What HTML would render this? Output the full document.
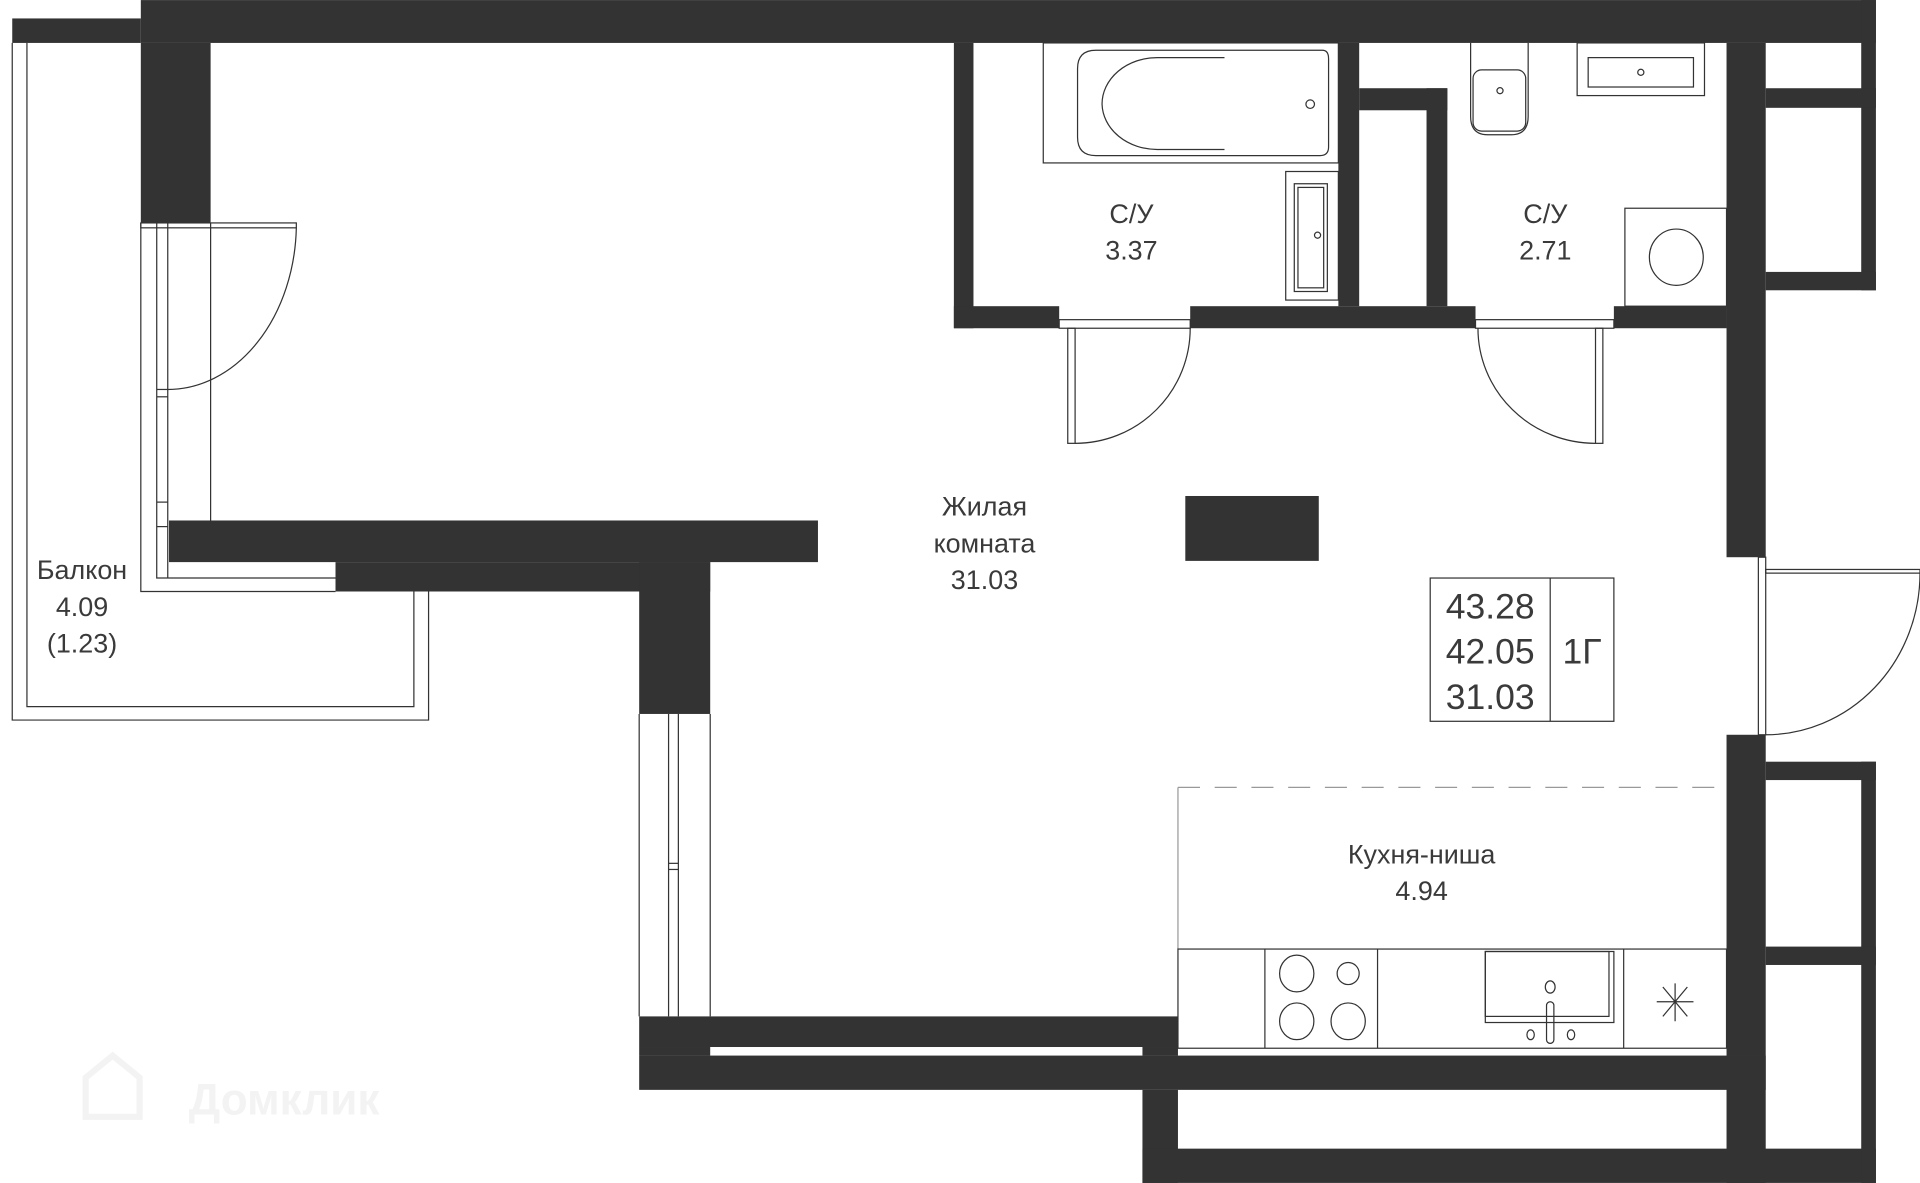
<!DOCTYPE html>
<html><head><meta charset="utf-8"><style>
html,body{margin:0;padding:0;background:#fff;width:1920px;height:1183px;overflow:hidden}
svg{display:block}
text{font-family:"Liberation Sans","DejaVu Sans",sans-serif;fill:#3a3a3a;text-anchor:middle}
</style></head><body>
<svg width="1920" height="1183" viewBox="0 0 1568 966" xmlns="http://www.w3.org/2000/svg">
<g fill="#333">
<rect x="115" y="0" width="1417" height="35"/>
<rect x="10" y="15" width="105" height="20"/>
<rect x="115" y="35" width="57" height="147"/>
<rect x="138" y="425" width="530" height="34"/>
<rect x="274" y="459" width="306" height="24"/>
<rect x="522" y="459" width="58" height="124"/>
<rect x="522" y="830" width="440" height="25"/>
<rect x="522" y="855" width="58" height="7"/>
<rect x="933" y="855" width="29" height="7"/>
<rect x="522" y="862" width="920" height="28"/>
<rect x="933" y="890" width="29" height="76"/>
<rect x="933" y="938" width="599" height="28"/>
<rect x="1410" y="862" width="32" height="104"/>
<rect x="1520" y="622" width="12" height="344"/>
<rect x="1410" y="600" width="32" height="262"/>
<rect x="1442" y="622" width="90" height="15"/>
<rect x="1442" y="773" width="90" height="15"/>
<rect x="1410" y="35" width="32" height="420"/>
<rect x="1520" y="0" width="12" height="237"/>
<rect x="1442" y="72" width="90" height="16"/>
<rect x="1442" y="222" width="90" height="15"/>
<rect x="779" y="35" width="16" height="233"/>
<rect x="779" y="250" width="86" height="18"/>
<rect x="972" y="250" width="233" height="18"/>
<rect x="1318" y="250" width="92" height="18"/>
<rect x="1093" y="35" width="17" height="215"/>
<rect x="1110" y="72" width="72" height="18"/>
<rect x="1165" y="72" width="17" height="178"/>
<rect x="968" y="405" width="109" height="53"/>
</g>
<g fill="none" stroke="#333" stroke-width="1">
<path d="M10 35 V588 H350 V483"/>
<path d="M22 35 V577 H338 V483"/>
<path d="M115 182 V483 H274"/>
<path d="M128 182 V472 H274"/>
<path d="M137 182 V472"/>
<line x1="172" y1="182" x2="172" y2="425"/>
<rect x="115" y="182" width="127" height="4"/>
<path d="M137 318 A105 136 0 0 0 242 186"/>
<line x1="128" y1="318" x2="137" y2="318"/><line x1="128" y1="324" x2="137" y2="324"/>
<line x1="128" y1="410" x2="137" y2="410"/><line x1="128" y1="430" x2="137" y2="430"/>
<line x1="522" y1="583" x2="522" y2="830"/>
<line x1="580" y1="583" x2="580" y2="830"/>
<line x1="546" y1="583" x2="546" y2="830"/><line x1="554" y1="583" x2="554" y2="830"/>
<line x1="546" y1="705" x2="554" y2="705"/><line x1="546" y1="710" x2="554" y2="710"/>
<rect x="865" y="261" width="107" height="7"/>
<rect x="872" y="268" width="6" height="94"/>
<path d="M878 362 A94 94 0 0 0 972 268"/>
<rect x="1205" y="261" width="113" height="7"/>
<rect x="1303" y="268" width="6" height="94"/>
<path d="M1207 268 A96 94 0 0 0 1303 362"/>
<rect x="1436" y="455" width="6" height="145"/>
<rect x="1442" y="465" width="126" height="3"/>
<path d="M1568 468 A126 132 0 0 1 1442 600"/>
<rect x="852" y="35" width="241" height="98"/>
<path d="M895 41 H1080 Q1085 41 1085 48 V120 Q1085 127 1078 127 H895 Q880 127 880 112 V56 Q880 41 895 41 Z"/>
<path d="M1000 47 H945 A45 38 0 0 0 900 85 A45 38 0 0 0 945 122 H1000"/>
<circle cx="1070" cy="85" r="3.5"/>
<rect x="1050" y="140" width="43" height="105"/>
<rect x="1057" y="150" width="27" height="88"/>
<rect x="1060" y="153" width="21" height="82"/>
<circle cx="1076" cy="192" r="2.5"/>
<path d="M1201 35 V95 Q1201 110 1215 110 H1234 Q1248 110 1248 95 V35"/>
<rect x="1203" y="57" width="43" height="50" rx="7"/>
<circle cx="1225" cy="74" r="2.5"/>
<rect x="1288" y="35" width="104" height="43"/>
<rect x="1297" y="47" width="86" height="24"/>
<circle cx="1340" cy="59" r="2.5"/>
<rect x="1327" y="170" width="83" height="80"/>
<ellipse cx="1369" cy="210" rx="22" ry="23"/>
<rect x="1168" y="472" width="150" height="117"/>
<line x1="1266" y1="472" x2="1266" y2="589"/>
<line x1="962" y1="643" x2="1410" y2="643" stroke="#999" stroke-dasharray="18 12"/>
<line x1="962" y1="643" x2="962" y2="775" stroke="#999"/>
<rect x="962" y="775" width="448" height="81"/>
<line x1="1033" y1="775" x2="1033" y2="856"/>
<line x1="1125" y1="775" x2="1125" y2="856"/>
<line x1="1326" y1="775" x2="1326" y2="856"/>
<ellipse cx="1059" cy="795" rx="14" ry="15"/>
<ellipse cx="1101" cy="795" rx="9" ry="9"/>
<ellipse cx="1059" cy="834" rx="14" ry="15"/>
<ellipse cx="1101" cy="834" rx="14" ry="15"/>
<rect x="1213" y="777" width="105" height="58"/>
<rect x="1213" y="777" width="101" height="53"/>
<ellipse cx="1266" cy="806" rx="4" ry="5"/>
<rect x="1263" y="818" width="6" height="34" rx="3"/>
<ellipse cx="1250" cy="845" rx="3" ry="4"/><ellipse cx="1283" cy="845" rx="3" ry="4"/>
<path d="M1368 803 V834 M1353 818 H1383 M1358 806 L1378 830 M1378 806 L1358 830"/>
</g>
<text x="804" y="421" font-size="22">Жилая</text>
<text x="804" y="451" font-size="22">комната</text>
<text x="804" y="481" font-size="22">31.03</text>
<text x="924" y="182" font-size="22">С/У</text>
<text x="924" y="212" font-size="22">3.37</text>
<text x="1262" y="182" font-size="22">С/У</text>
<text x="1262" y="212" font-size="22">2.71</text>
<text x="67" y="473" font-size="22">Балкон</text>
<text x="67" y="503" font-size="22">4.09</text>
<text x="67" y="533" font-size="22">(1.23)</text>
<text x="1161" y="705" font-size="22">Кухня-ниша</text>
<text x="1161" y="735" font-size="22">4.94</text>
<text x="1217" y="505" font-size="29">43.28</text>
<text x="1217" y="542" font-size="29">42.05</text>
<text x="1217" y="579" font-size="29">31.03</text>
<text x="1292" y="542" font-size="29">1Г</text>
<text x="232" y="910" font-size="36" style="fill:#f3f3f3" font-weight="bold">Домклик</text>
<path d="M70 880 L92 862 L114 880 V912 H70 Z" fill="none" stroke="#f3f3f3" stroke-width="5"/>
</svg>
</body></html>
